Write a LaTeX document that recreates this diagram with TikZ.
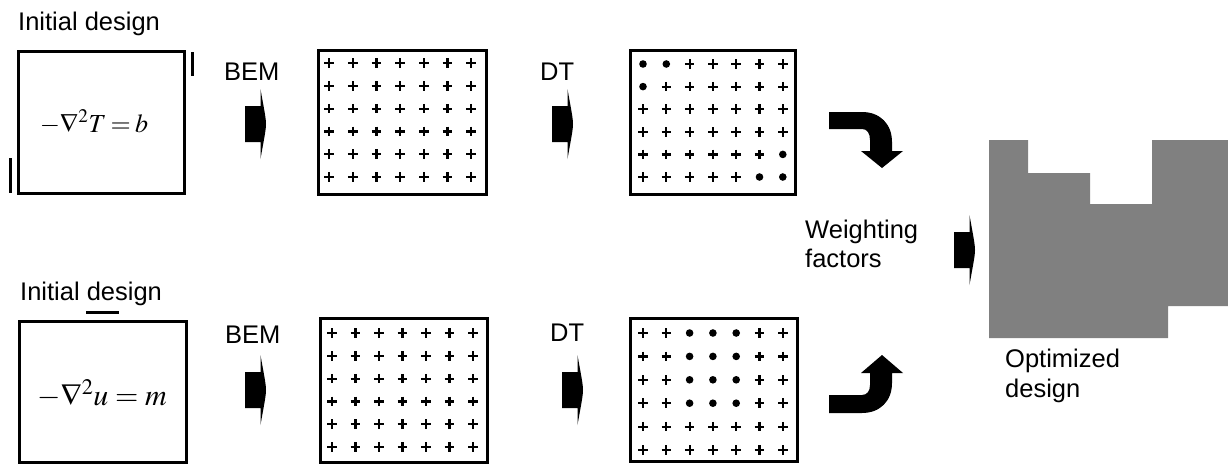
\documentclass[tikz,border=0pt]{standalone}
\usepackage{mathptmx}
\usepackage[no-math]{fontspec}
\setmainfont{Liberation Sans}
\makeatletter
\newcommand\gridpts[5]{%
  \foreach \i in {0,...,6}{%
    \foreach \j in {0,...,5}{%
      \edef\tmp{\noexpand\in@{,\i-\j,}{#5}}\tmp
      \ifin@
        \pic at ({#1+#2*\i},{#3+#4*\j}) {dotmark};
      \else
        \pic at ({#1+#2*\i},{#3+#4*\j}) {crossmark};
      \fi
    }%
  }%
}
\makeatother
\tikzset{
  crossmark/.pic={\draw[line width=2.2pt] (-4.8,0)--(4.8,0) (0,-4.8)--(0,4.8);},
  dotmark/.pic={\fill (0,0) circle (3.8);},
  blockarrow/.pic={\fill (0,-18) -- (15.5,-18) -- (15.5,-35)
      .. controls (19,-15) and (21,-6) .. (21,0)
      .. controls (21,6) and (19,15) .. (15.5,35)
      -- (15.5,18) -- (0,18) -- cycle;},
  box/.style={draw, line width=3pt, inner sep=0pt},
  lbl/.style={font=\fontsize{25.5}{30}\selectfont, inner sep=0pt, anchor=base west},
  thick3/.style={line width=3pt}
}
\begin{document}
\begin{tikzpicture}[x=1pt,y=-1pt]
\useasboundingbox (0,0) rectangle (1228,466);
% top row
\node[lbl] (it) at (18,30) {Initial design};
\node[box, minimum width=166pt, minimum height=142pt] (bt) at (101,122) {};
\node[inner sep=0pt] (et) at (94,122) {\fontsize{26}{30}\selectfont\thickmuskip=3mu\medmuskip=1mu $-\nabla^2 T = b$};
\draw[thick3] (192,52) -- (192,76);
\draw[thick3] (10,158) -- (10,193);
\node[lbl] (bemt) at (224,80) {BEM};
\pic at (245,124) {blockarrow};
\node[box, minimum width=168pt, minimum height=144pt] (g1t) at (402,122) {};
\gridpts{329}{23.7}{63}{22.8}{,}
\node[lbl] (dtt) at (540,80) {DT};
\pic at (552,124) {blockarrow};
\node[box, minimum width=165pt, minimum height=144pt] (g2t) at (712.5,122) {};
\gridpts{643}{23.3}{64}{22.6}{,0-0,1-0,0-1,6-4,5-5,6-5,}
\fill (829,112) -- (862,112) .. controls (880,112) and (892,124) .. (892,142)
  -- (892,151) -- (903,151) -- (882,168) -- (861,151) -- (870,151) -- (870,140)
  .. controls (870,133) and (867,129) .. (862,129) -- (829,129) -- cycle;
% bottom row
\node[lbl] (ib) at (20,300) {Initial design};
\draw[thick3] (86,312) -- (119,312);
\node[box, minimum width=167pt, minimum height=141pt] (bb) at (102.5,391.5) {};
\node[inner sep=0pt] (eb) at (102,394) {\fontsize{30}{34}\selectfont $-\nabla^2 u = m$};
\node[lbl] (bemb) at (225,343) {BEM};
\pic at (245,390) {blockarrow};
\node[box, minimum width=167pt, minimum height=144pt] (g1b) at (403.5,390) {};
\gridpts{332}{23.5}{333}{22.8}{,}
\node[lbl] (dtb) at (550,341) {DT};
\pic at (562,390) {blockarrow};
\node[box, minimum width=167pt, minimum height=143pt] (g2b) at (713.5,389.5) {};
\gridpts{643}{23.3}{333}{23.4}{,2-0,3-0,4-0,2-1,3-1,4-1,2-2,3-2,4-2,2-3,3-3,4-3,}
\fill (829,413) -- (862,413) .. controls (880,413) and (892,401) .. (892,383)
  -- (892,373) -- (903,373) -- (882,355) -- (861,373) -- (870,373) -- (870,385)
  .. controls (870,391) and (867,395) .. (862,395) -- (829,395) -- cycle;
% right part
\node[lbl] (w1) at (805,238) {Weighting};
\node[lbl] (w2) at (805,267) {factors};
\pic at (954,250) {blockarrow};
\fill[fill={rgb,255:red,128;green,128;blue,128}] (989,140) -- (1028,140) -- (1028,173) -- (1090,173)
  -- (1090,204) -- (1152,204) -- (1152,140) -- (1228,140) -- (1228,306)
  -- (1168,306) -- (1168,338) -- (989,338) -- cycle;
\node[lbl] (o1) at (1005,367) {Optimized};
\node[lbl] (o2) at (1005,397) {design};
\end{tikzpicture}
\end{document}
